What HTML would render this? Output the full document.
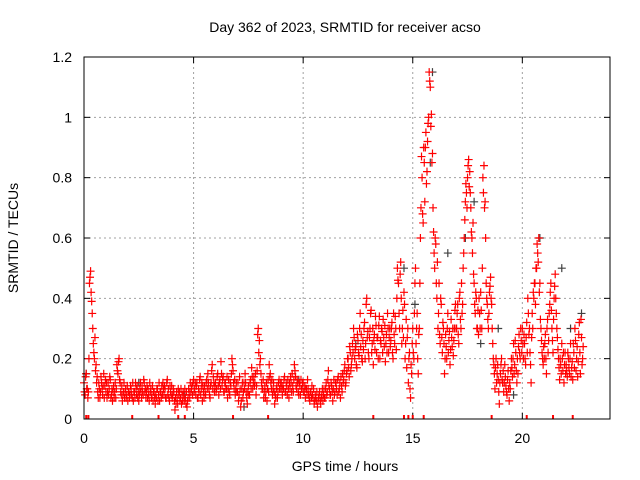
<!DOCTYPE html>
<html><head><meta charset="utf-8"><style>
body{margin:0;background:#fff}
svg{display:block;font-family:"Liberation Sans",sans-serif}
</style></head><body>
<svg id="chart" width="640" height="480">
<rect x="0" y="0" width="640" height="480" fill="#fff"/>
<text x="345" y="32" font-size="14" text-anchor="middle">Day 362 of 2023, SRMTID for receiver acso</text>
<text x="18" y="238" font-size="14" text-anchor="middle" transform="rotate(-90 18 238)">SRMTID / TECUs</text>
<text x="345" y="471" font-size="14" text-anchor="middle">GPS time / hours</text>
<g id="grid"></g>
<g id="axes"></g>
<g id="marks"></g>
<rect x="84" y="57" width="526" height="362" fill="none" stroke="#000" stroke-width="1"/>
</svg>
<script>
const xTicks=[0,5,10,15,20];
const yTicks=[0,0.2,0.4,0.6,0.8,1,1.2];
const yTickLabels=["0","0.2","0.4","0.6","0.8","1","1.2"];
const sampleStep=0.05;
const redValues=[
0.12,0.08,0.15,0.1,0.09,0.45,0.49,0.39,0.3,0.22,0.27,0.18,0.14,0.07,0.1,0.09,0.12,0.08,0.15,0.11,
0.09,0.07,0.12,0.1,0.13,0.08,0.06,0.11,0.09,0.07,0.18,0.15,0.2,0.12,0.08,0.06,0.09,0.07,0.1,0.08,
0.06,0.09,0.08,0.1,0.07,0.06,0.09,0.12,0.08,0.07,0.06,0.1,0.09,0.11,0.08,0.12,0.1,0.09,0.07,0.08,
0.12,0.1,0.08,0.06,0.09,0.05,0.07,0.1,0.08,0.06,0.09,0.11,0.12,0.08,0.1,0.07,0.13,0.1,0.06,0.09,
0.11,0.08,0.09,0.03,0.05,0.07,0.1,0.09,0.07,0.05,0.06,0.08,0.1,0.05,0.04,0.07,0.09,0.12,0.1,0.08,
0.13,0.1,0.08,0.12,0.07,0.09,0.14,0.1,0.06,0.09,0.11,0.08,0.13,0.15,0.1,0.07,0.12,0.18,0.14,0.09,
0.12,0.1,0.15,0.08,0.13,0.19,0.11,0.14,0.09,0.12,0.1,0.07,0.13,0.08,0.11,0.2,0.16,0.1,0.08,0.12,
0.09,0.06,0.14,0.04,0.1,0.07,0.12,0.15,0.09,0.05,0.11,0.08,0.13,0.17,0.1,0.14,0.12,0.08,0.16,0.3,
0.26,0.2,0.12,0.1,0.07,0.11,0.09,0.06,0.13,0.18,0.15,0.1,0.08,0.12,0.05,0.07,0.11,0.09,0.13,0.1,
0.12,0.08,0.1,0.14,0.09,0.11,0.13,0.07,0.1,0.12,0.15,0.09,0.18,0.14,0.1,0.12,0.08,0.11,0.13,0.1,
0.12,0.09,0.07,0.1,0.13,0.08,0.06,0.09,0.11,0.07,0.05,0.08,0.06,0.04,0.07,0.09,0.05,0.08,0.06,0.1,
0.07,0.12,0.09,0.16,0.1,0.08,0.11,0.06,0.13,0.09,0.12,0.08,0.14,0.1,0.07,0.11,0.15,0.13,0.18,0.12,
0.16,0.2,0.14,0.22,0.18,0.25,0.3,0.2,0.24,0.17,0.26,0.21,0.35,0.28,0.19,0.23,0.32,0.25,0.4,0.29,
0.2,0.3,0.36,0.25,0.18,0.28,0.34,0.22,0.27,0.31,0.2,0.25,0.29,0.33,0.24,0.19,0.28,0.35,0.22,0.3,
0.26,0.32,0.2,0.28,0.34,0.23,0.5,0.45,0.3,0.52,0.25,0.36,0.42,0.2,0.33,0.27,0.12,0.22,0.07,0.15,
0.3,0.2,0.45,0.25,0.35,0.15,0.3,0.6,0.87,0.68,0.9,0.72,0.95,0.82,0.98,1.15,1.1,1.01,0.88,0.62,
0.5,0.58,0.4,0.3,0.45,0.25,0.38,0.22,0.3,0.15,0.28,0.2,0.35,0.26,0.18,0.33,0.24,0.21,0.3,0.38,
0.3,0.38,0.25,0.42,0.3,0.35,0.5,0.6,0.72,0.75,0.8,0.86,0.82,0.7,0.6,0.65,0.45,0.35,0.4,0.3,
0.28,0.35,0.42,0.3,0.8,0.84,0.72,0.45,0.38,0.3,0.42,0.47,0.38,0.25,0.18,0.1,0.2,0.15,0.13,0.05,
0.15,0.2,0.12,0.09,0.18,0.11,0.08,0.16,0.06,0.1,0.2,0.14,0.25,0.18,0.22,0.12,0.15,0.28,0.2,0.26,
0.3,0.2,0.25,0.18,0.32,0.4,0.28,0.22,0.12,0.35,0.42,0.45,0.38,0.5,0.55,0.6,0.45,0.3,0.22,0.18,
0.2,0.28,0.15,0.33,0.26,0.38,0.45,0.3,0.22,0.4,0.48,0.35,0.27,0.2,0.13,0.18,0.25,0.16,0.12,0.22,
0.18,0.14,0.2,0.15,0.25,0.17,0.13,0.22,0.3,0.16,0.24,0.19,0.32,0.15,0.27,0.2];
const redValues2=[
0.09,0.14,0.1,0.07,0.2,0.47,0.42,0.35,0.25,0.2,0.16,0.12,0.09,0.12,0.07,0.14,0.1,0.11,0.07,0.13,
0.12,0.09,0.08,0.14,0.07,0.1,0.09,0.07,0.12,0.1,0.16,0.19,0.13,0.09,0.11,0.08,0.12,0.09,0.07,0.11,
0.09,0.07,0.11,0.08,0.12,0.09,0.07,0.1,0.11,0.09,0.08,0.12,0.07,0.09,0.13,0.09,0.07,0.11,0.1,0.06,
0.09,0.07,0.11,0.09,0.07,0.08,0.1,0.06,0.12,0.09,0.07,0.08,0.1,0.11,0.07,0.12,0.08,0.07,0.11,0.08,
0.07,0.1,0.06,0.07,0.09,0.05,0.08,0.06,0.1,0.08,0.09,0.06,0.07,0.09,0.06,0.1,0.07,0.09,0.11,0.12,
0.09,0.12,0.11,0.07,0.1,0.13,0.08,0.12,0.11,0.07,0.09,0.12,0.1,0.12,0.08,0.11,0.16,0.1,0.12,0.11,
0.09,0.14,0.11,0.12,0.1,0.15,0.13,0.09,0.12,0.1,0.14,0.1,0.09,0.12,0.15,0.18,0.12,0.13,0.1,0.09,
0.12,0.08,0.1,0.06,0.12,0.09,0.1,0.12,0.07,0.09,0.08,0.12,0.1,0.14,0.12,0.11,0.15,0.11,0.28,0.22,
0.18,0.15,0.1,0.13,0.09,0.07,0.12,0.1,0.09,0.14,0.12,0.13,0.1,0.09,0.08,0.1,0.07,0.12,0.1,0.12,
0.1,0.11,0.13,0.09,0.12,0.08,0.1,0.12,0.14,0.09,0.11,0.13,0.16,0.11,0.13,0.09,0.12,0.08,0.1,0.12,
0.09,0.11,0.1,0.08,0.1,0.07,0.09,0.07,0.08,0.1,0.06,0.07,0.09,0.06,0.08,0.06,0.07,0.1,0.08,0.07,
0.1,0.08,0.13,0.11,0.08,0.12,0.09,0.1,0.08,0.12,0.1,0.13,0.09,0.12,0.14,0.09,0.12,0.16,0.11,0.15,
0.2,0.17,0.24,0.16,0.2,0.22,0.27,0.23,0.18,0.28,0.22,0.3,0.24,0.2,0.26,0.3,0.2,0.38,0.27,0.22,
0.27,0.35,0.22,0.3,0.26,0.23,0.31,0.27,0.2,0.34,0.26,0.3,0.22,0.27,0.31,0.25,0.22,0.3,0.27,0.24,
0.3,0.22,0.35,0.25,0.3,0.4,0.46,0.35,0.48,0.4,0.3,0.27,0.38,0.25,0.17,0.3,0.2,0.1,0.18,0.25,
0.22,0.35,0.5,0.3,0.2,0.28,0.45,0.7,0.8,0.65,0.85,0.9,0.78,0.92,1.0,1.12,0.97,0.85,0.7,0.55,
0.6,0.45,0.52,0.35,0.28,0.4,0.27,0.32,0.25,0.2,0.24,0.3,0.22,0.29,0.23,0.27,0.3,0.26,0.36,0.3,
0.35,0.28,0.4,0.33,0.45,0.38,0.55,0.66,0.78,0.7,0.84,0.77,0.75,0.62,0.55,0.48,0.38,0.42,0.3,0.36,
0.4,0.3,0.36,0.5,0.75,0.7,0.6,0.4,0.33,0.35,0.44,0.4,0.3,0.2,0.15,0.17,0.12,0.18,0.09,0.12,
0.18,0.13,0.16,0.12,0.14,0.09,0.13,0.1,0.12,0.16,0.17,0.2,0.15,0.26,0.16,0.2,0.24,0.22,0.3,0.22,
0.25,0.28,0.2,0.27,0.22,0.35,0.3,0.18,0.27,0.3,0.4,0.45,0.5,0.58,0.52,0.42,0.33,0.26,0.2,0.24,
0.25,0.2,0.3,0.22,0.35,0.42,0.36,0.26,0.33,0.44,0.4,0.3,0.23,0.17,0.2,0.15,0.2,0.22,0.18,0.15,
0.16,0.22,0.17,0.2,0.14,0.19,0.25,0.17,0.26,0.2,0.14,0.28,0.22,0.33,0.18,0.24];
const grayTimes=[0.1,2.5,4.6,7.3,9.8,12.4,14.6,15.1,15.8,15.9,16.6,17.4,17.8,18.1,18.9,19.6,20.8,21.8,22.2,22.7];
const grayValues=[0.15,0.12,0.08,0.04,0.13,0.25,0.5,0.38,0.85,1.15,0.55,0.6,0.72,0.25,0.3,0.08,0.6,0.5,0.3,0.35];
const zeroTimes=[0.1,0.2,2.2,3.4,4.3,4.6,6.8,8.4,13.2,14.6,14.8,15.0,15.5,18.6,20.2,21.4,22.3];

const X0=84,X1=610,Y0=419,Y1=57,XMAX=24,YMAX=1.2;
const xs=t=>X0+(X1-X0)*t/XMAX;
const ys=v=>Y0-(Y0-Y1)*v/YMAX;
const NS="http://www.w3.org/2000/svg";
const grid=document.getElementById('grid'),axes=document.getElementById('axes'),marks=document.getElementById('marks');
function mk(tag,a,parent){const e=document.createElementNS(NS,tag);for(const k in a)e.setAttribute(k,a[k]);parent.appendChild(e);return e;}

xTicks.forEach(t=>{
  const x=xs(t);
  if(t>0){const g=mk('line',{x1:x,y1:Y0,x2:x,y2:Y1,stroke:'#a0a0a0','stroke-dasharray':'2,3'},grid);
  
  }
  const tk=mk('line',{x1:x,y1:Y0,x2:x,y2:Y0-6,stroke:'#000'},axes);
  
  
  const tk2=mk('line',{x1:x,y1:Y1,x2:x,y2:Y1+6,stroke:'#000'},axes);
  
  
  const l=mk('text',{x:x,y:Y0+24,'font-size':14,'text-anchor':'middle'},axes);l.textContent=String(t);
  
  
});
yTicks.forEach((v,i)=>{
  const y=ys(v);
  if(v>0&&v<YMAX){const g=mk('line',{x1:X0,y1:y,x2:X1,y2:y,stroke:'#a0a0a0','stroke-dasharray':'2,3'},grid);
  
  }
  const tk=mk('line',{x1:X0,y1:y,x2:X0+6,y2:y,stroke:'#000'},axes);
  
  
  const tk2=mk('line',{x1:X1,y1:y,x2:X1-6,y2:y,stroke:'#000'},axes);
  
  
  const l=mk('text',{x:X0-12,y:y+5,'font-size':14,'text-anchor':'end'},axes);l.textContent=yTickLabels[i];
  
  
});
function plus(t,v,color,name){
  const x=xs(t),y=ys(v);
  const p=mk('path',{d:`M${x-4} ${y}H${x+4}M${x} ${y-4}V${y+4}`,stroke:color,'stroke-width':1.2,fill:'none'},marks);
  
  
}
grayTimes.forEach((t,i)=>plus(t,grayValues[i],'#404040','gray-point'));
redValues.forEach((v,i)=>plus(i*sampleStep,v,'#ff0000','red-point'));
redValues2.forEach((v,i)=>plus(i*sampleStep+sampleStep/2,v,'#ff0000','red-point'));
zeroTimes.forEach(t=>{
  const r=mk('rect',{x:xs(t)-1,y:Y0-4,width:2,height:4,fill:'#ff0000'},marks);
  
  
});
</script>
</body></html>
